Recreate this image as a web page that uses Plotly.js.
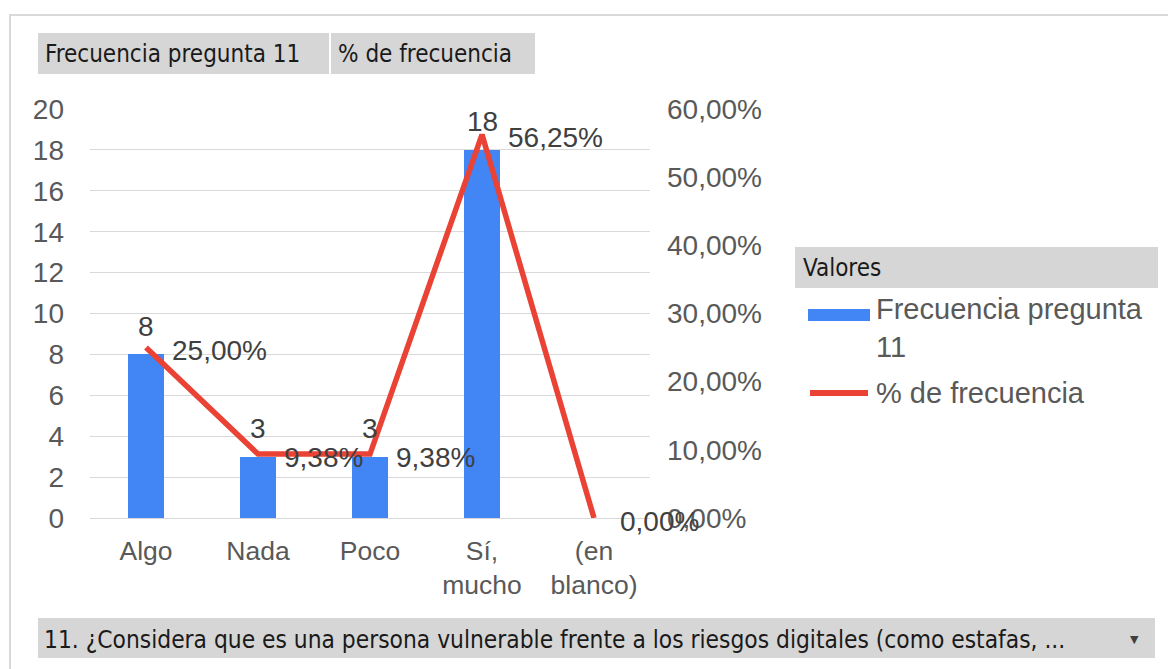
<!DOCTYPE html>
<html><head><meta charset="utf-8">
<script src="https://cdn.plot.ly/plotly-3.0.1.min.js"></script>
<style>html,body{margin:0;padding:0;background:#fff}#chart{width:1168px;height:669px}</style>
</head><body><div id="chart"></div>
<script>
const categories = ['Algo', 'Nada', 'Poco', 'Sí,<br>mucho', '(en<br>blanco)'];
const frecuencia = [8, 3, 3, 18, 0];
const porcentaje = [25.00, 9.38, 9.38, 56.25, 0.00];
const leftTicks = [0, 2, 4, 6, 8, 10, 12, 14, 16, 18, 20];
const rightTicks = [0, 10, 20, 30, 40, 50, 60];
const rightTickText = ['0,00%', '10,00%', '20,00%', '30,00%', '40,00%', '50,00%', '60,00%'];
const seriesNames = ['Frecuencia pregunta 11', '% de frecuencia'];
const filterText = '11. ¿Considera que es una persona vulnerable frente a los riesgos digitales (como estafas, ...';

const L = 90, R = 650, T = 109, B = 518;
const px = x => (x - L) / (R - L);
const py = y => (B - y) / (B - T);
const fmtPct = v => v.toFixed(2).replace('.', ',') + '%';
const FONT = 'Liberation Sans, Arial, sans-serif';
const UIFONT = 'DejaVu Sans Condensed, Tahoma, sans-serif';
const FS = 28;

const traces = [
  {type: 'bar', x: categories, y: frecuencia, name: seriesNames[0], marker: {color: '#4285F4'}, width: 0.32, hoverinfo: 'skip'},
  {type: 'scatter', mode: 'lines', x: categories, y: porcentaje, yaxis: 'y2', name: seriesNames[1],
   line: {color: '#EA4335', width: 5.5}, hoverinfo: 'skip'}
];

const annotations = [];
categories.forEach((c, i) => {
  if (frecuencia[i] !== 0) {
    annotations.push({x: c, y: frecuencia[i], xref: 'x', yref: 'y', text: String(frecuencia[i]), showarrow: false,
      yanchor: 'middle', yshift: 28, font: {family: FONT, size: FS, color: '#404040'}});
  }
  annotations.push({x: c, y: porcentaje[i], xref: 'x', yref: 'y2', text: fmtPct(porcentaje[i]), showarrow: false,
    xanchor: 'left', yanchor: 'middle', xshift: 24, yshift: -3, font: {family: FONT, size: FS, color: '#404040'}});
});

// header buttons
annotations.push({x: px(43), y: py(54), xref: 'paper', yref: 'paper', xanchor: 'left', yanchor: 'middle', showarrow: false,
  text: seriesNames[0], font: {family: UIFONT, size: 24, color: '#1a1a1a'}});
annotations.push({x: px(336), y: py(54), xref: 'paper', yref: 'paper', xanchor: 'left', yanchor: 'middle', showarrow: false,
  text: seriesNames[1], font: {family: UIFONT, size: 24, color: '#1a1a1a'}});
// legend
annotations.push({x: px(801), y: py(268), xref: 'paper', yref: 'paper', xanchor: 'left', yanchor: 'middle', showarrow: false,
  text: 'Valores', font: {family: UIFONT, size: 24, color: '#1a1a1a'}});
annotations.push({x: px(874), y: py(328), xref: 'paper', yref: 'paper', xanchor: 'left', yanchor: 'middle', showarrow: false,
  align: 'left', text: 'Frecuencia pregunta<br>11', font: {family: FONT, size: 29, color: '#595959'}});
annotations.push({x: px(874), y: py(393), xref: 'paper', yref: 'paper', xanchor: 'left', yanchor: 'middle', showarrow: false,
  text: seriesNames[1], font: {family: FONT, size: 29, color: '#595959'}});
// bottom filter
annotations.push({x: px(42), y: py(639), xref: 'paper', yref: 'paper', xanchor: 'left', yanchor: 'middle', showarrow: false,
  text: filterText, font: {family: UIFONT, size: 24.3, color: '#1a1a1a'}});
annotations.push({x: px(1134), y: py(639), xref: 'paper', yref: 'paper', xanchor: 'center', yanchor: 'middle', showarrow: false,
  text: '▼', font: {family: 'DejaVu Sans', size: 11, color: '#404040'}});

const rect = (x0, y0, x1, y1, fill, line) => ({type: 'rect', xref: 'paper', yref: 'paper', x0: px(x0), x1: px(x1), y0: py(y1), y1: py(y0),
  fillcolor: fill, line: line || {width: 0}, layer: 'below'});
const shapes = [
  {type: 'rect', xref: 'paper', yref: 'paper', x0: px(10), x1: px(1180), y0: py(690), y1: py(15), fillcolor: 'rgba(0,0,0,0)', line: {color: '#d9d9d9', width: 2}, layer: 'below'},
  rect(38, 33, 329, 74, '#d6d6d6'),
  rect(331, 33, 535, 74, '#d6d6d6'),
  rect(795, 247, 1158, 288, '#d6d6d6'),
  rect(38, 618, 1155, 658, '#d6d6d6'),
  {type: 'rect', xref: 'paper', yref: 'paper', x0: px(808), x1: px(870), y0: py(321), y1: py(309), fillcolor: '#4285F4', line: {width: 0}},
  {type: 'line', xref: 'paper', yref: 'paper', x0: px(810), x1: px(868), y0: py(393), y1: py(393), line: {color: '#EA4335', width: 6}}
];

const layout = {
  width: 1168, height: 669, margin: {l: L, r: 1168 - R, t: T, b: 669 - B},
  paper_bgcolor: '#ffffff', plot_bgcolor: '#ffffff', showlegend: false, bargap: 0,
  xaxis: {type: 'category', range: [-0.5, 4.5], showgrid: false, zeroline: false, showline: true, linecolor: '#d9d9d9', linewidth: 1,
    ticks: '', ticklabelstandoff: 9, tickfont: {family: FONT, size: 26.5, color: '#595959'}, fixedrange: true},
  yaxis: {range: [0, 20], tickvals: leftTicks, showgrid: true, gridcolor: '#d9d9d9', gridwidth: 1, zeroline: false,
    showline: false, ticks: '', ticklabelstandoff: 25, tickfont: {family: FONT, size: FS, color: '#595959'}, fixedrange: true},
  yaxis2: {range: [0, 60], overlaying: 'y', side: 'right', tickvals: rightTicks, ticktext: rightTickText, showgrid: false,
    zeroline: false, showline: false, ticks: '', ticklabelstandoff: 16, tickfont: {family: FONT, size: FS, color: '#595959'}, fixedrange: true},
  annotations: annotations, shapes: shapes
};
Plotly.newPlot('chart', traces, layout, {displayModeBar: false, staticPlot: true});
</script></body></html>
